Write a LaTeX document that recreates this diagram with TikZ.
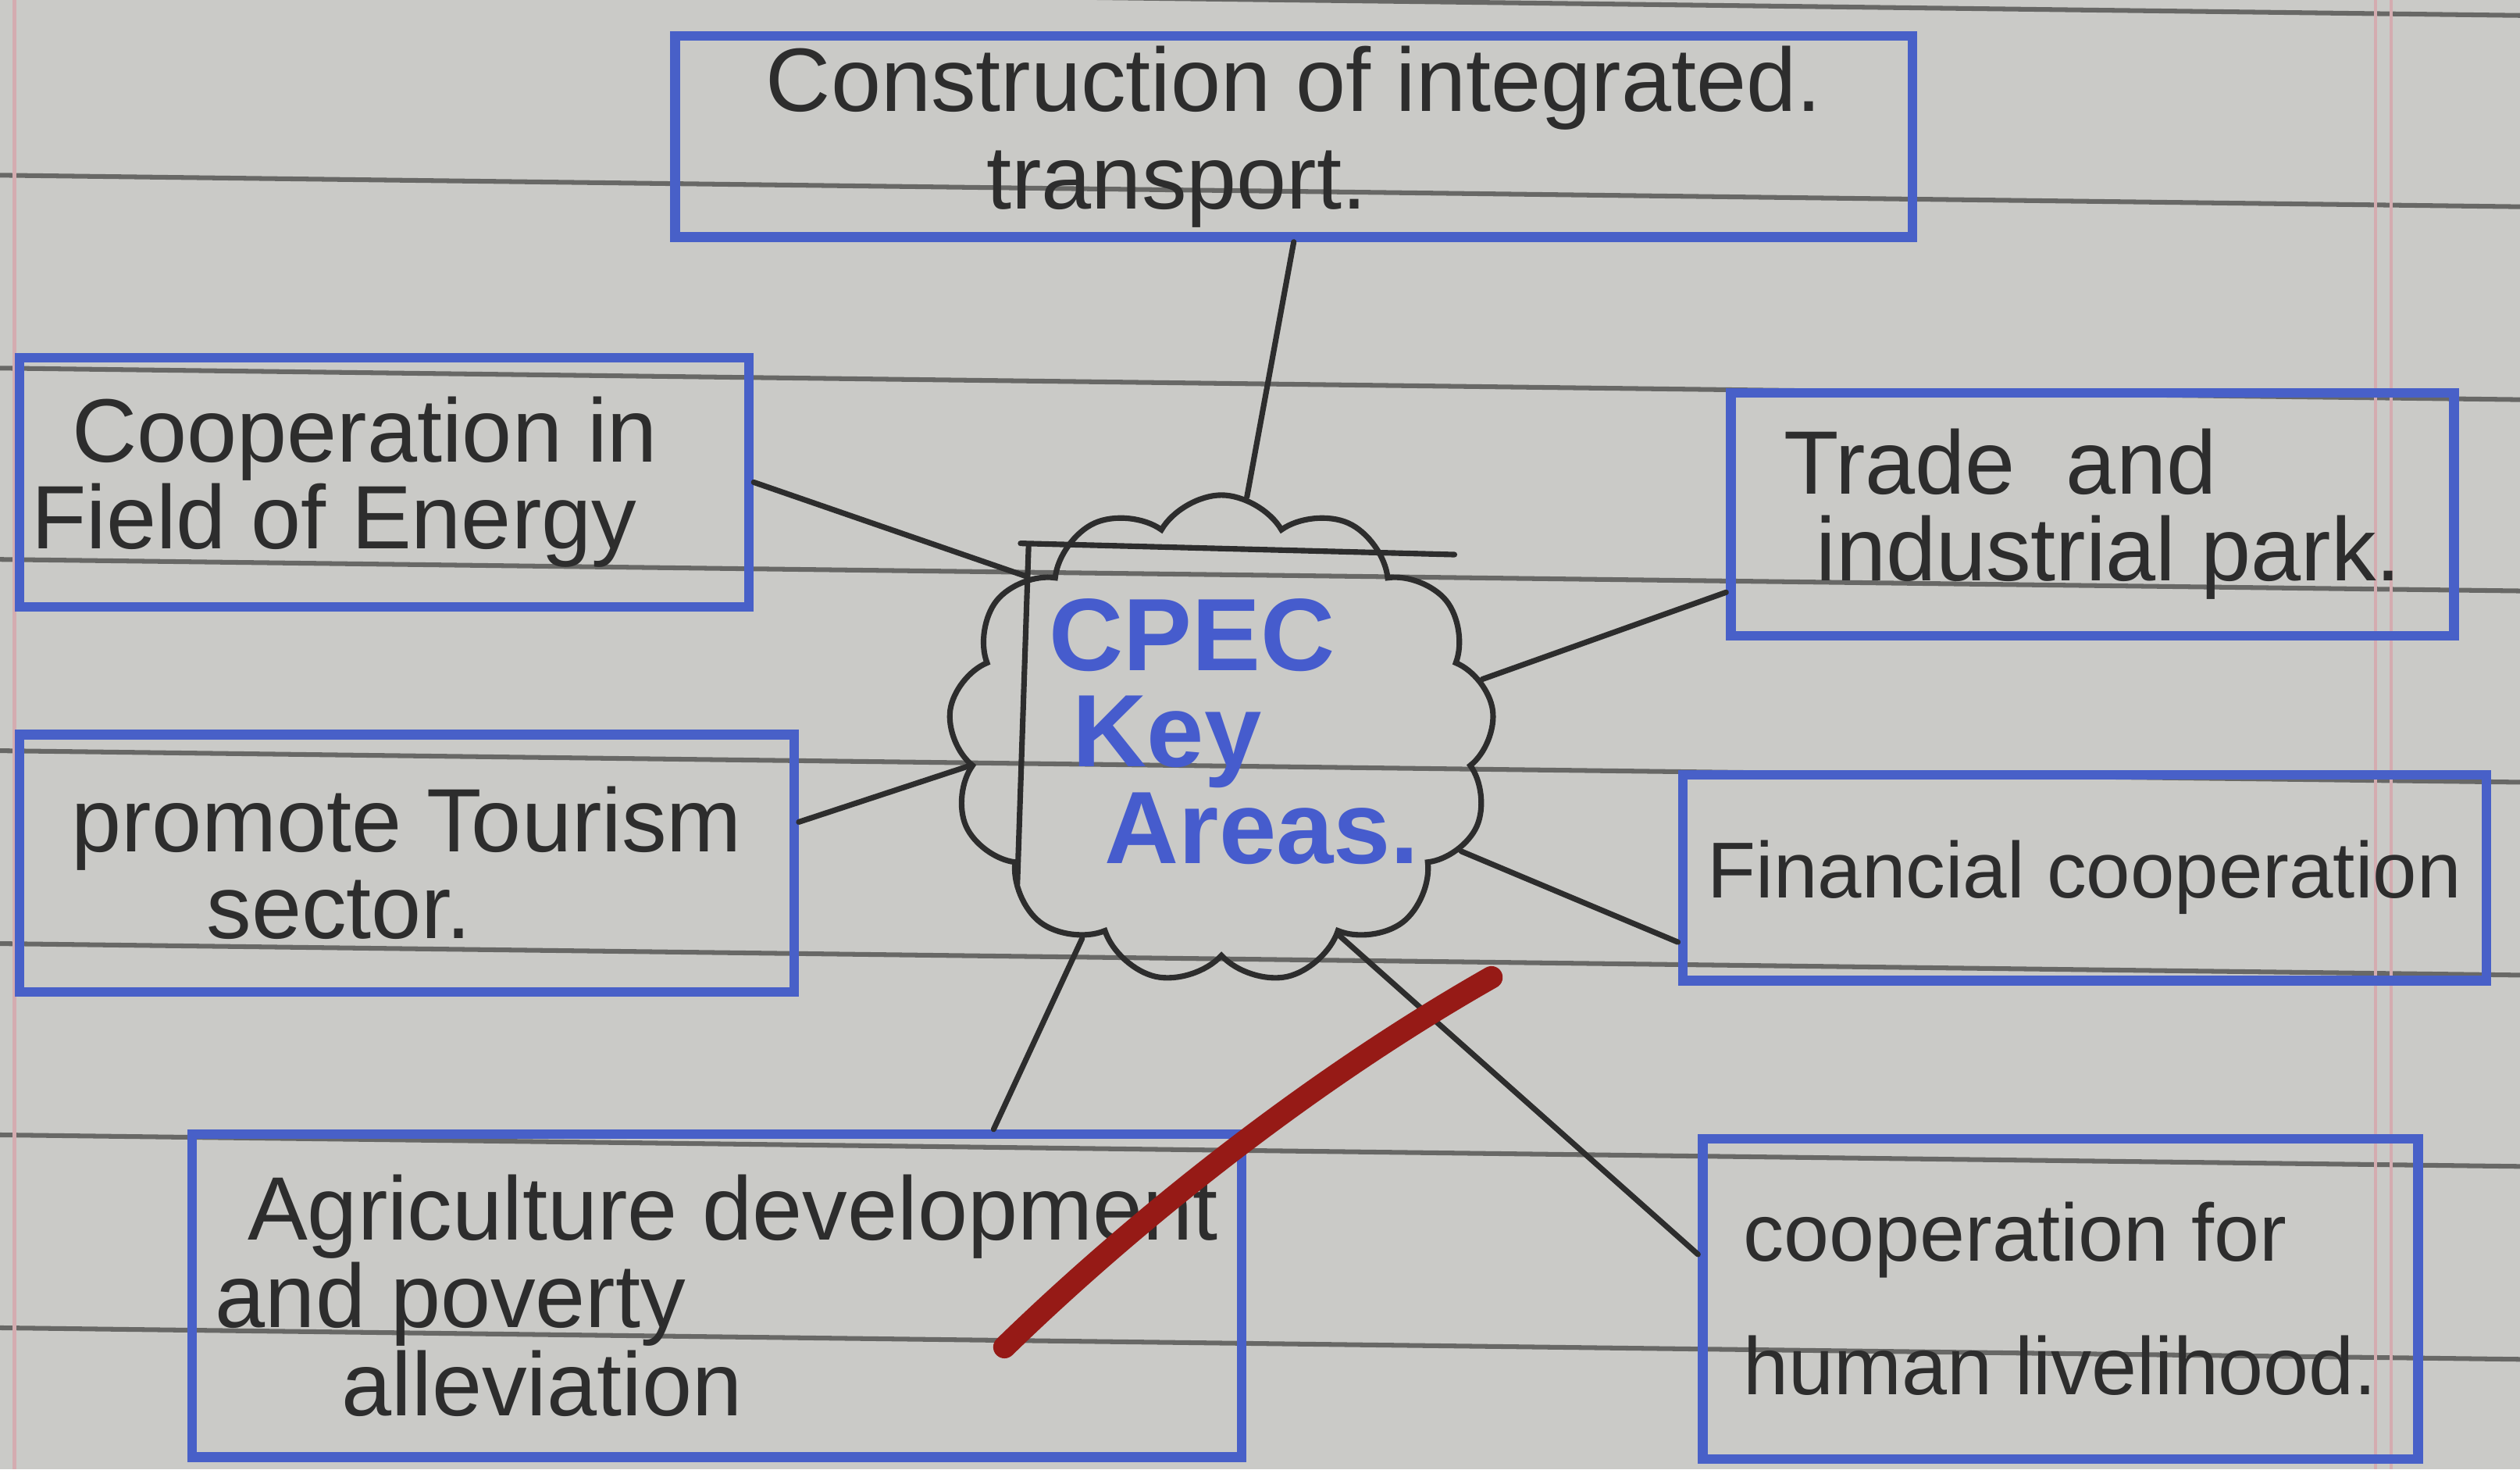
\documentclass[tikz,border=0pt]{standalone}
\usepackage{fontspec}
\setmainfont{Liberation Sans}
\usetikzlibrary{shapes.symbols}

\tikzset{every picture/.style={line width=0.75pt}}
\tikzset{
  areabox/.style={rectangle, draw={rgb, 255:red, 72; green, 96; blue, 200}, line width=4.5pt, align=left, inner sep=0pt,
    text={rgb, 255:red, 45; green, 45; blue, 45}, font=\fontsize{38}{40.5}\selectfont},
  keycloud/.style={cloud, cloud puffs=13, cloud puff arc=120, aspect=1.1, inner sep=0pt,
    draw={rgb, 255:red, 45; green, 45; blue, 45}, line width=2.6pt},
  keytext/.style={align=left, inner sep=0pt, text={rgb, 255:red, 70; green, 92; blue, 205}, font=\fontsize{48}{45}\selectfont\bfseries},
  inkline/.style={draw={rgb, 255:red, 45; green, 45; blue, 45}, line width=2.6pt, line cap=round},
  ruled/.style={draw={rgb, 255:red, 104; green, 104; blue, 102}, line width=2.2pt},
  margin/.style={draw={rgb, 255:red, 212; green, 172; blue, 176}, line width=1.5pt}
}

\begin{document}
\begin{tikzpicture}[x=0.75pt,y=0.75pt,yscale=-1,xscale=1]
        \useasboundingbox (0,0) rectangle (1568,914);

        %Shape: Rectangle [paper]
        \fill [fill={rgb, 255:red, 202; green, 202; blue, 199}] (0,0) rectangle (1568,914);
        %Straight Lines [ruled lines]
        \draw [ruled] (0,-10) -- (1568,9.6);
        \draw [ruled] (0,109) -- (1568,128.6);
        \draw [ruled] (0,229) -- (1568,248.6);
        \draw [ruled] (0,348) -- (1568,367.6);
        \draw [ruled] (0,467) -- (1568,486.6);
        \draw [ruled] (0,587) -- (1568,606.6);
        \draw [ruled] (0,706) -- (1568,725.6);
        \draw [ruled] (0,826) -- (1568,845.6);
        %Straight Lines [margins]
        \draw [margin] (9,0) -- (9,914);
        \draw [margin] (1478,0) -- (1478,914);
        \draw [margin] (1488,0) -- (1488,914);

        % Text Node
        \node [areabox, font=\fontsize{42}{40.5}\selectfont, minimum width=577.5pt, minimum height=93.75pt] (transport) at (805,85) {Construction of integrated.\\[5pt]\hspace*{103pt}transport.};
        % Text Node
        \node [areabox, font=\fontsize{42}{40.5}\selectfont, minimum width=340.5pt, minimum height=116.25pt] (energy) at (239,300) {\hspace*{19pt}Cooperation in\hspace*{37pt}\\Field of Energy};
        % Text Node
        \node [areabox, font=\fontsize{42}{40.5}\selectfont, minimum width=361.5pt, minimum height=120pt] (tourism) at (253,537) {promote Tourism\\\hspace*{63pt}sector.};
        % Text Node
        \node [areabox, font=\fontsize{42}{41}\selectfont, minimum width=489.75pt, minimum height=150.75pt] (agri) at (446,806) {\hspace*{15pt}Agriculture development\\and poverty\\\hspace*{59pt}alleviation};
        % Text Node
        \node [areabox, font=\fontsize{42}{40.5}\selectfont, minimum width=337.5pt, minimum height=113.25pt] (trade) at (1302,320) {Trade\hspace{12pt} and\\\hspace*{15pt}industrial park.};
        % Text Node
        \node [areabox, font=\fontsize{37}{40.5}\selectfont, minimum width=375pt, minimum height=96pt] (financial) at (1297,546) {Financial cooperation};
        % Text Node
        \node [areabox, minimum width=333.75pt, minimum height=149.25pt] (human) at (1282,808) {cooperation for\\[22pt]human livelihood.};

        %Shape: Cloud
        \node [keycloud, minimum width=255pt, minimum height=228pt] (cpec) at (760,460) {};
        %Straight Lines [inner frame]
        \draw [inkline] (635,338) -- (905,345);
        \draw [inkline] (640,340) -- (633,550);
        % Text Node
        \node [keytext] (keyareas) at (768,455) {CPEC\\\hspace*{11pt}Key\\\hspace*{26pt}Areas.};

        %Straight Lines [connectors]
        \draw [inkline] (transport.south) -- (cpec.84);
        \draw [inkline] (energy.east) -- (cpec.140);
        \draw [inkline] (tourism.6) -- (cpec.186);
        \draw [inkline] (agri.31) -- (cpec.235);
        \draw [inkline] (cpec.301) -- (human.173);
        \draw [inkline] (cpec.335) -- (financial.189);
        \draw [inkline] (cpec.13) -- (trade.192);

        %Curve Lines [red stroke]
        \draw [draw={rgb, 255:red, 150; green, 26; blue, 22}, line width=10.5pt, line cap=round] (625,838) .. controls (700,765) and (810,675) .. (928,608);

    \end{tikzpicture}
\end{document}
